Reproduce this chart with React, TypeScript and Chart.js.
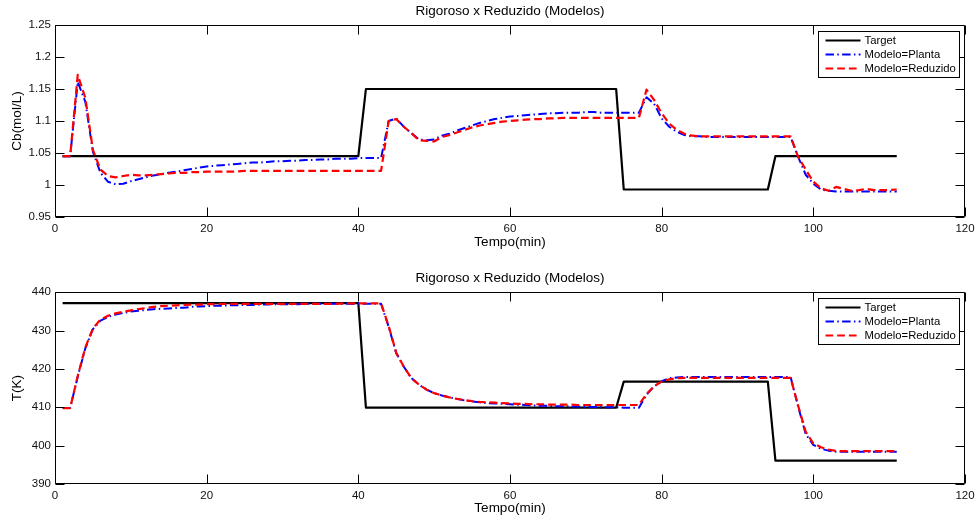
import React, { useEffect, useRef } from 'react';
import { Chart, registerables } from 'chart.js';

Chart.register(...registerables);

const FONT = '"Liberation Sans", Arial, Helvetica, sans-serif';

const time = [
  1, 2, 3, 4, 5, 6, 7, 8, 9, 10,
  11, 12, 13, 14, 15, 16, 17, 18, 19, 20,
  21, 22, 23, 24, 25, 26, 27, 28, 29, 30,
  31, 32, 33, 34, 35, 36, 37, 38, 39, 40,
  41, 42, 43, 44, 45, 46, 47, 48, 49, 50,
  51, 52, 53, 54, 55, 56, 57, 58, 59, 60,
  61, 62, 63, 64, 65, 66, 67, 68, 69, 70,
  71, 72, 73, 74, 75, 76, 77, 78, 79, 80,
  81, 82, 83, 84, 85, 86, 87, 88, 89, 90,
  91, 92, 93, 94, 95, 96, 97, 98, 99, 100,
  101, 102, 103, 104, 105, 106, 107, 108, 109, 110, 111,
];

// Target breakpoints (step changes)
const targetTime = [1, 40, 41, 74, 75, 94, 95, 111];
const cbTarget = [1.045, 1.045, 1.15, 1.15, 0.993, 0.993, 1.045, 1.045];
const tTarget = [437.2, 437.2, 409.9, 409.9, 416.7, 416.7, 396.1, 396.1];

const cbPlanta = [
  1.045, 1.045, 1.161, 1.130, 1.052, 1.019, 1.005, 1.001, 1.002, 1.006,
  1.009, 1.012, 1.015, 1.017, 1.019, 1.021, 1.023, 1.025, 1.027, 1.029,
  1.030, 1.031, 1.032, 1.033, 1.034, 1.035, 1.035, 1.036, 1.037, 1.037,
  1.038, 1.038, 1.039, 1.039, 1.040, 1.040, 1.041, 1.041, 1.041, 1.042,
  1.042, 1.042, 1.042, 1.100, 1.104, 1.091, 1.081, 1.071, 1.070, 1.071,
  1.077, 1.080, 1.085, 1.089, 1.093, 1.097, 1.100, 1.103, 1.105, 1.107,
  1.108, 1.109, 1.110, 1.111, 1.112, 1.112, 1.113, 1.113, 1.113, 1.114,
  1.114, 1.113, 1.113, 1.113, 1.113, 1.113, 1.113, 1.137, 1.127, 1.104,
  1.091, 1.083, 1.078, 1.076, 1.076, 1.075, 1.075, 1.075, 1.075, 1.075,
  1.075, 1.075, 1.075, 1.075, 1.075, 1.075, 1.075, 1.044, 1.016, 1.002,
  0.993, 0.991, 0.990, 0.990, 0.990, 0.990, 0.990, 0.990, 0.990, 0.990, 0.990,
];

const cbReduzido = [
  1.045, 1.045, 1.172, 1.136, 1.055, 1.024, 1.014, 1.012, 1.014, 1.016,
  1.015, 1.015, 1.016, 1.017, 1.018, 1.019, 1.019, 1.020, 1.020, 1.021,
  1.021, 1.021, 1.021, 1.021, 1.022, 1.022, 1.022, 1.022, 1.022, 1.022,
  1.022, 1.022, 1.022, 1.022, 1.022, 1.022, 1.022, 1.022, 1.022, 1.022,
  1.022, 1.022, 1.022, 1.100, 1.103, 1.091, 1.081, 1.070, 1.069, 1.068,
  1.075, 1.078, 1.082, 1.086, 1.090, 1.093, 1.095, 1.097, 1.099, 1.100,
  1.101, 1.102, 1.103, 1.103, 1.104, 1.104, 1.105, 1.105, 1.105, 1.105,
  1.105, 1.105, 1.105, 1.105, 1.105, 1.105, 1.105, 1.149, 1.133, 1.112,
  1.096, 1.086, 1.080, 1.077, 1.076, 1.076, 1.076, 1.076, 1.076, 1.076,
  1.076, 1.076, 1.076, 1.076, 1.076, 1.076, 1.076, 1.044, 1.024, 1.005,
  0.995, 0.991, 0.997, 0.994, 0.991, 0.992, 0.994, 0.992, 0.992, 0.992, 0.993,
];

const tPlanta = [
  409.8, 409.8, 418.0, 425.4, 430.4, 432.6, 433.6, 434.2, 434.6, 435.0,
  435.2, 435.4, 435.6, 435.7, 435.8, 435.9, 436.0, 436.2, 436.3, 436.4,
  436.5, 436.5, 436.6, 436.6, 436.7, 436.7, 436.8, 436.8, 436.9, 436.9,
  436.9, 436.9, 437.0, 437.0, 437.0, 437.0, 437.0, 437.0, 437.0, 437.0,
  437.0, 437.0, 437.0, 431.0, 424.1, 420.6, 417.6, 415.9, 414.6, 413.7,
  413.1, 412.6, 412.2, 411.8, 411.5, 411.3, 411.1, 411.0, 410.9, 410.8,
  410.7, 410.6, 410.5, 410.4, 410.4, 410.3, 410.3, 410.2, 410.2, 410.1,
  410.1, 410.0, 410.0, 410.0, 409.9, 409.9, 409.9, 413.3, 415.4, 416.8,
  417.6, 417.8, 417.9, 417.9, 417.9, 417.9, 417.9, 417.9, 417.9, 417.9,
  417.9, 417.9, 417.9, 417.9, 417.9, 417.9, 417.9, 410.2, 403.0, 400.2,
  399.2, 398.7, 398.4, 398.4, 398.4, 398.4, 398.4, 398.4, 398.4, 398.4, 398.4,
];

const tReduzido = [
  409.8, 409.8, 418.2, 425.6, 430.6, 432.9, 433.9, 434.5, 434.9, 435.3,
  435.6, 435.9, 436.2, 436.4, 436.5, 436.6, 436.7, 436.8, 436.8, 436.9,
  436.9, 437.0, 437.0, 437.0, 437.0, 437.0, 437.0, 437.0, 437.0, 437.0,
  437.0, 437.0, 437.0, 437.0, 437.0, 437.0, 437.0, 437.1, 437.1, 437.1,
  437.1, 437.1, 437.1, 431.2, 424.2, 420.6, 417.6, 415.9, 414.6, 413.7,
  413.1, 412.6, 412.2, 411.9, 411.6, 411.4, 411.3, 411.2, 411.1, 411.0,
  410.9, 410.9, 410.8, 410.8, 410.7, 410.7, 410.7, 410.7, 410.6, 410.6,
  410.6, 410.6, 410.6, 410.6, 410.6, 410.6, 410.6, 413.5, 415.5, 416.7,
  417.3, 417.6, 417.7, 417.7, 417.7, 417.7, 417.7, 417.7, 417.7, 417.7,
  417.7, 417.7, 417.7, 417.7, 417.7, 417.7, 417.7, 410.4, 403.6, 400.6,
  399.6, 399.0, 398.6, 398.6, 398.6, 398.6, 398.6, 398.6, 398.6, 398.6, 398.6,
];

const seriesLabels = ['Target', 'Modelo=Planta', 'Modelo=Reduzido'];
const chartTitle = 'Rigoroso x Reduzido (Modelos)';
const xTitle = 'Tempo(min)';

const pts = (xs: number[], ys: number[]) => xs.map((x, i) => ({ x, y: ys[i] }));

// Frame, inward ticks on all four sides, and the in-plot legend
const framePlugin = {
  id: 'matlabFrame',
  afterDraw(chart: any) {
    const { ctx, chartArea: a, scales } = chart;
    const tl = 9;
    ctx.save();
    ctx.strokeStyle = '#000';
    ctx.lineWidth = 1;
    const L = Math.round(a.left) + 0.5;
    const R = Math.round(a.right) - 0.5;
    const T = Math.round(a.top) + 0.5;
    const B = Math.round(a.bottom) - 0.5;
    ctx.beginPath();
    ctx.rect(L, T, R - L, B - T);
    scales.x.ticks.forEach((t: any) => {
      const px = Math.round(scales.x.getPixelForValue(t.value)) + 0.5;
      ctx.moveTo(px, B);
      ctx.lineTo(px, B - tl);
      ctx.moveTo(px, T);
      ctx.lineTo(px, T + tl);
    });
    scales.y.ticks.forEach((t: any) => {
      const py = Math.round(scales.y.getPixelForValue(t.value)) + 0.5;
      ctx.moveTo(L, py);
      ctx.lineTo(L + tl, py);
      ctx.moveTo(R, py);
      ctx.lineTo(R - tl, py);
    });
    ctx.stroke();

    // legend
    const bw = 141;
    const bh = 46;
    const bx = Math.round(a.right - 6 - bw) + 0.5;
    const by = Math.round(a.top + 6) + 0.5;
    ctx.fillStyle = '#fff';
    ctx.fillRect(bx, by, bw, bh);
    ctx.strokeStyle = '#000';
    ctx.lineWidth = 1;
    ctx.strokeRect(bx, by, bw, bh);
    chart.data.datasets.forEach((ds: any, i: number) => {
      const y = by + 9 + i * 14;
      ctx.save();
      ctx.strokeStyle = ds.borderColor;
      ctx.lineWidth = ds.borderWidth;
      ctx.setLineDash(ds.borderDash || []);
      ctx.beginPath();
      ctx.moveTo(bx + 7, y);
      ctx.lineTo(bx + 42, y);
      ctx.stroke();
      ctx.restore();
      ctx.fillStyle = '#000';
      ctx.font = `11.3px ${FONT}`;
      ctx.textAlign = 'left';
      ctx.textBaseline = 'middle';
      ctx.fillText(ds.label, bx + 46, y);
    });
    ctx.restore();
  },
};

interface PanelSpec {
  target: number[];
  planta: number[];
  reduzido: number[];
  yMin: number;
  yMax: number;
  yStep: number;
  yTitle: string;
  titlePad: { top: number; bottom: number };
  xAxisHeight: number;
  xTitlePadBottom: number;
}

const fmtTick = (v: number | string) => String(Number(Number(v).toFixed(2)));

function buildConfig(p: PanelSpec): any {
  const tickFont = { family: FONT, size: 11.5 };
  const titleFont = { family: FONT, size: 13.5, weight: 'normal' as const, lineHeight: 1.2 };
  return {
    type: 'line',
    data: {
      datasets: [
        {
          label: seriesLabels[0],
          data: pts(targetTime, p.target),
          borderColor: '#000000',
          borderWidth: 2.2,
          borderDash: [],
          order: 3,
        },
        {
          label: seriesLabels[1],
          data: pts(time, p.planta),
          borderColor: '#0000ff',
          borderWidth: 2,
          borderDash: [8.5, 3.3, 1.5, 3.3],
          order: 2,
        },
        {
          label: seriesLabels[2],
          data: pts(time, p.reduzido),
          borderColor: '#ff0000',
          borderWidth: 2.2,
          borderDash: [7.7, 4],
          order: 1,
        },
      ],
    },
    options: {
      responsive: false,
      maintainAspectRatio: false,
      animation: false,
      devicePixelRatio: 1,
      layout: { padding: { left: 0, right: 12, top: 0, bottom: 0 } },
      elements: {
        line: { tension: 0, fill: false, borderCapStyle: 'butt', borderJoinStyle: 'round' },
        point: { radius: 0, hoverRadius: 0 },
      },
      plugins: {
        legend: { display: false },
        tooltip: { enabled: false },
        title: {
          display: true,
          text: chartTitle,
          fullSize: false,
          color: '#000',
          font: titleFont,
          padding: p.titlePad,
        },
      },
      scales: {
        x: {
          type: 'linear',
          min: 0,
          max: 120,
          ticks: { stepSize: 20, color: '#111', font: tickFont, padding: 5, maxRotation: 0, autoSkip: false, callback: fmtTick },
          grid: { display: false, drawTicks: false },
          border: { display: false },
          title: { display: true, text: xTitle, color: '#000', font: titleFont, padding: { top: 0, bottom: p.xTitlePadBottom } },
          afterFit: (s: any) => {
            s.height = p.xAxisHeight;
            s.paddingLeft = 0;
            s.paddingRight = 0;
          },
        },
        y: {
          type: 'linear',
          min: p.yMin,
          max: p.yMax,
          ticks: { stepSize: p.yStep, color: '#111', font: tickFont, padding: 4, autoSkip: false, callback: fmtTick },
          grid: { display: false, drawTicks: false },
          border: { display: false },
          title: { display: true, text: p.yTitle, color: '#000', font: titleFont, padding: { top: 9, bottom: 0 } },
          afterFit: (s: any) => {
            s.width = 55;
            s.paddingTop = 0;
            s.paddingBottom = 0;
          },
        },
      },
    },
    plugins: [framePlugin],
  };
}

const topSpec: PanelSpec = {
  target: cbTarget,
  planta: cbPlanta,
  reduzido: cbReduzido,
  yMin: 0.95,
  yMax: 1.25,
  yStep: 0.05,
  yTitle: 'Cb(mol/L)',
  titlePad: { top: 3.5, bottom: 5.3 },
  xAxisHeight: 43,
  xTitlePadBottom: 9.2,
};

const bottomSpec: PanelSpec = {
  target: tTarget,
  planta: tPlanta,
  reduzido: tReduzido,
  yMin: 390,
  yMax: 440,
  yStep: 10,
  yTitle: 'T(K)',
  titlePad: { top: 10, bottom: 6.1 },
  xAxisHeight: 37,
  xTitlePadBottom: 4.6,
};

function Panel({ spec, height }: { spec: PanelSpec; height: number }) {
  const ref = useRef<HTMLCanvasElement | null>(null);
  useEffect(() => {
    if (!ref.current) return;
    const chart = new Chart(ref.current, buildConfig(spec));
    return () => chart.destroy();
  }, [spec]);
  return <canvas ref={ref} width={977} height={height} style={{ display: 'block', width: 977, height }} />;
}

export default function App() {
  return (
    <div style={{ position: 'fixed', left: 0, top: 0, width: 977, height: 521, background: '#fff', overflow: 'hidden' }}>
      <Panel spec={topSpec} height={260} />
      <Panel spec={bottomSpec} height={261} />
    </div>
  );
}
